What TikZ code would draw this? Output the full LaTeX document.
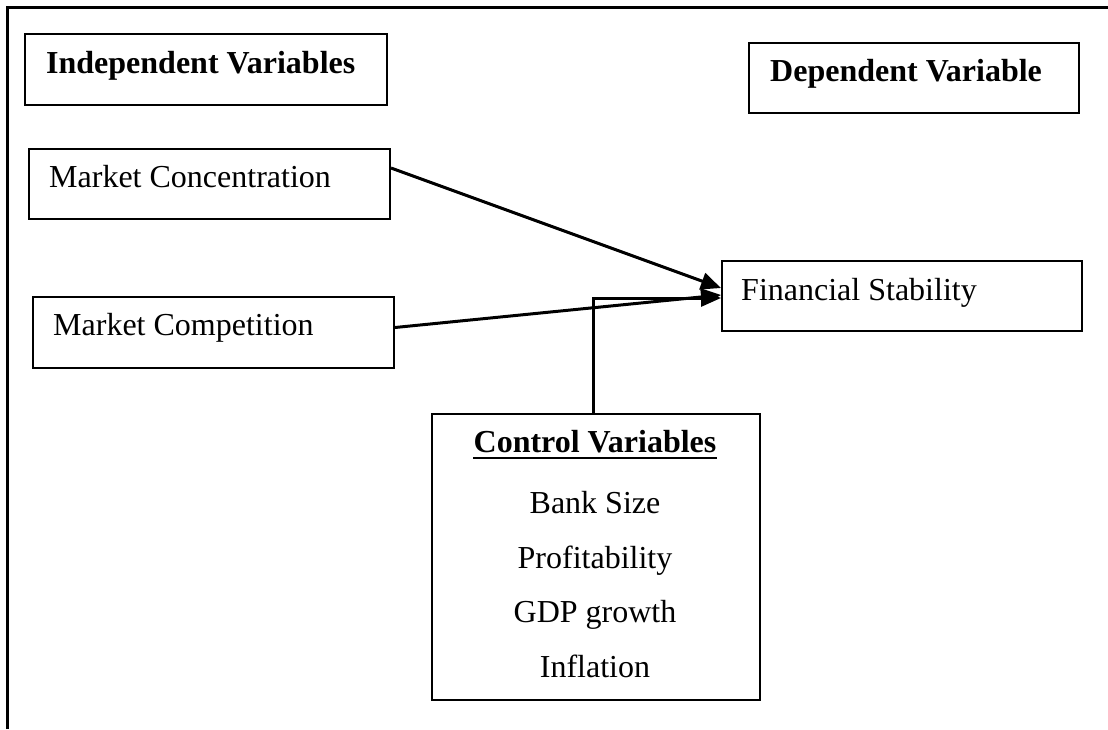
\documentclass[tikz,border=0pt]{standalone}
\usepackage{fontspec}
\setmainfont{Liberation Serif}
\usetikzlibrary{arrows.meta}
\begin{document}
\begin{tikzpicture}[x=1pt,y=-1pt,
  box/.style={draw, line width=2pt, inner sep=0pt, anchor=north west},
  txt/.style={inner sep=0pt, anchor=base west, font=\fontsize{32}{38}\selectfont},
  boldtxt/.style={txt, font=\fontsize{32}{38}\selectfont\bfseries},
  ctxt/.style={txt, anchor=base},
  arr/.style={line width=3pt, -{Triangle[length=20pt,width=17pt]}},
  framestyle/.style={line width=3pt}]
\useasboundingbox (0,0) rectangle (1108,729);

% outer frame (top and left)
\coordinate (fbl) at (7,729);
\coordinate (ftl) at (7,7);
\coordinate (ftr) at (1108,7);
\draw[framestyle] (fbl) -- (ftl) -- (ftr);

% boxes
\node[box, minimum width=362pt, minimum height=71pt] (iv) at (24,33) {};
\node[box, minimum width=330pt, minimum height=70pt] (dv) at (748,42) {};
\node[box, minimum width=361pt, minimum height=70pt] (mc) at (28,148) {};
\node[box, minimum width=361pt, minimum height=71pt] (mcp) at (32,296) {};
\node[box, minimum width=360pt, minimum height=70pt] (fs) at (721,260) {};
\node[box, minimum width=328pt, minimum height=286pt] (cv) at (431,413) {};

% texts
\node[boldtxt] (ivt) at (46,73) {Independent Variables};
\node[boldtxt] (dvt) at (770,81) {Dependent Variable};
\node[txt] (mct) at (49,187) {Market Concentration};
\node[txt] (mcpt) at (53,335) {Market Competition};
\node[txt] (fst) at (741,300) {Financial Stability};
\node[ctxt, font=\fontsize{32}{38}\selectfont\bfseries] (cvt) at (595,452) {Control Variables};
\draw[line width=2.5pt] ([yshift=-6pt]cvt.base west) -- ([yshift=-6pt]cvt.base east);
\node[ctxt] (c1) at (595,513) {Bank Size};
\node[ctxt] (c2) at (595,568) {Profitability};
\node[ctxt] (c3) at (595,622) {GDP growth};
\node[ctxt] (c4) at (595,677) {Inflation};

% connectors
\draw[arr] ([yshift=16pt]mc.east) -- ([yshift=8pt]fs.west);
\draw[arr] ([yshift=5pt]mcp.east) -- ([yshift=1pt]fs.west);
\draw[arr] ([xshift=-3pt]cv.north) |- ([yshift=-2pt]fs.west);
\end{tikzpicture}
\end{document}
